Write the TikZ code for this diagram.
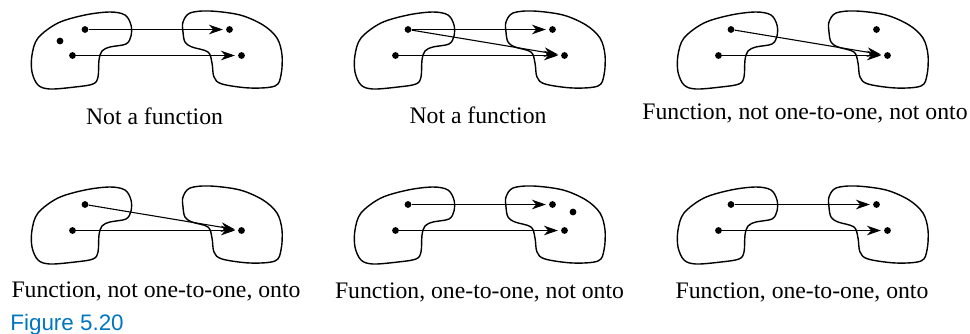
\documentclass[tikz,border=0pt]{standalone}
\usepackage{fontspec}
\setmainfont{Liberation Serif}
\newfontfamily\figfont{Liberation Sans}
\usetikzlibrary{arrows.meta}
\definecolor{figblue}{RGB}{0,118,192}
\newcommand\twoblobs{%
  \draw[blobline] plot[smooth cycle, tension=0.55] coordinates {
    (85,15) (110,12) (125,15) (131,25) (131,36) (126,44) (110,47) (102,51)
    (99,60) (98,77) (93,84) (75,87) (50,89) (38,85) (32,72) (32,55) (38,38) (58,23)};
  \draw[blobline] plot[smooth cycle, tension=0.55] coordinates {
    (183,22) (190,13) (210,11) (240,15) (263,25) (277,38) (282,55) (281,75)
    (275,86) (250,88) (222,84) (214,77) (212,63) (208,52) (192,47) (185,42) (183,32)};
}
\begin{document}
\begin{tikzpicture}[x=0.5pt,y=-0.5pt,
  blobline/.style={line width=0.7pt, line join=round},
  pt/.style={circle, fill=black, inner sep=0pt, minimum size=3.4pt},
  maparrow/.style={line width=0.55pt, -{Stealth[length=7pt, width=4.8pt, inset=2.2pt]}, shorten >=1.4pt},
  lbl/.style={anchor=base, inner sep=0pt, font=\fontsize{11.85}{14}\selectfont}]
\useasboundingbox (0,0) rectangle (970,333);
% Panel 1
\begin{scope}
  \twoblobs
  \node[pt] (a1) at (85,29.5) {};
  \node[pt] (c1) at (60,41) {};
  \node[pt] (b1) at (72.5,55.5) {};
  \node[pt] (r1) at (229.5,29.5) {};
  \node[pt] (s1) at (241.5,55.5) {};
  \draw[maparrow] (a1) -- (r1);
  \draw[maparrow] (b1) -- (s1);
  \node[lbl] (t1) at (154.5,124) {Not a function};
\end{scope}
% Panel 2
\begin{scope}[shift={(323,0)}]
  \twoblobs
  \node[pt] (a2) at (85,29.5) {};
  \node[pt] (b2) at (72.5,55.5) {};
  \node[pt] (r2) at (229.5,29.5) {};
  \node[pt] (s2) at (241.5,55.5) {};
  \draw[maparrow] (a2) -- (r2);
  \draw[maparrow] (a2) -- (s2);
  \draw[maparrow] (b2) -- (s2);
  \node[lbl] (t2) at (155,123) {Not a function};
\end{scope}
% Panel 3
\begin{scope}[shift={(646,0)}]
  \twoblobs
  \node[pt] (a3) at (85,29.5) {};
  \node[pt] (b3) at (72.5,55.5) {};
  \node[pt] (r3) at (230.5,29.5) {};
  \node[pt] (s3) at (241.5,55.5) {};
  \draw[maparrow] (a3) -- (s3);
  \draw[maparrow] (b3) -- (s3);
  \node[lbl] (t3) at (159,119) {Function, not one-to-one, not onto};
\end{scope}
% Panel 4
\begin{scope}[shift={(0,175)}]
  \twoblobs
  \node[pt] (a4) at (85,29.5) {};
  \node[pt] (b4) at (72.5,55.5) {};
  \node[pt] (s4) at (241.5,55.5) {};
  \draw[maparrow] (a4) -- (s4);
  \draw[maparrow] (b4) -- (s4);
  \node[lbl] (t4) at (156,122) {Function, not one-to-one, onto};
\end{scope}
% Panel 5
\begin{scope}[shift={(323,175)}]
  \twoblobs
  \node[pt] (a5) at (85,29.5) {};
  \node[pt] (b5) at (72.5,55.5) {};
  \node[pt] (r5) at (229.5,29.5) {};
  \node[pt] (c5) at (250,37) {};
  \node[pt] (s5) at (241.5,55.5) {};
  \draw[maparrow] (a5) -- (r5);
  \draw[maparrow] (b5) -- (s5);
  \node[lbl] (t5) at (156.5,123) {Function, one-to-one, not onto};
\end{scope}
% Panel 6
\begin{scope}[shift={(646,175)}]
  \twoblobs
  \node[pt] (a6) at (85,29.5) {};
  \node[pt] (b6) at (72.5,55.5) {};
  \node[pt] (r6) at (230.5,29.5) {};
  \node[pt] (s6) at (241.5,55.5) {};
  \draw[maparrow] (a6) -- (r6);
  \draw[maparrow] (b6) -- (s6);
  \node[lbl] (t6) at (156,123) {Function, one-to-one, onto};
\end{scope}
\node[anchor=base west, inner sep=0pt, text=figblue, font=\figfont\fontsize{11.2}{13}\selectfont] (fig) at (10,330) {Figure 5.20};
\end{tikzpicture}
\end{document}
